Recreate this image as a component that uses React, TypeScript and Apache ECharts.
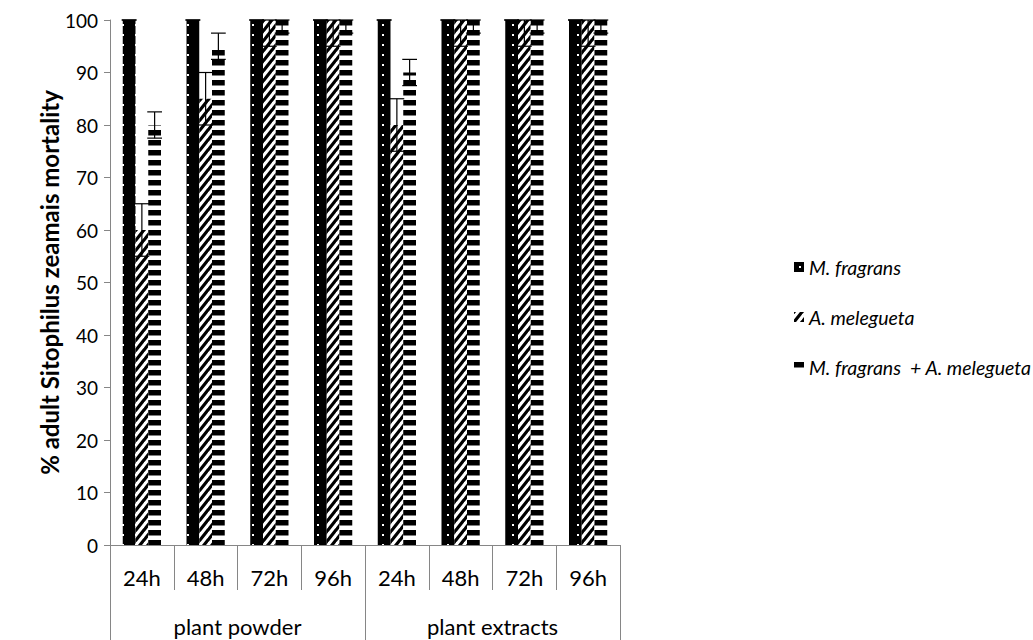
import React, { useEffect, useRef } from "react";
import * as echarts from "echarts";

const categories = ["24h", "48h", "72h", "96h", "24h", "48h", "72h", "96h"];
const groups = ["plant powder", "plant extracts"];
const seriesNames = ["M. fragrans", "A. melegueta", "M. fragrans  + A. melegueta"];
const mfValues = [100, 100, 100, 100, 100, 100, 100, 100];
const amValues = [60, 85, 100, 100, 80, 100, 100, 100];
const comboValues = [80, 95, 100, 100, 90, 100, 100, 100];
const mfErr = [0, 0, 0, 0, 0, 0, 0, 0];
const amErr = [5, 5, 5, 5, 5, 5, 5, 5];
const comboErr = [2.5, 2.5, 2.5, 2.5, 2.5, 2.5, 2.5, 2.5];
const yTicks = { min: 0, max: 100, interval: 10 };

const FONT = "Lato, 'Open Sans', sans-serif";
const AXIS = "#868686";

function svgUrl(svg: string) {
  return "data:image/svg+xml;charset=utf-8," + encodeURIComponent(svg);
}

const dotPattern = {
  image: svgUrl(
    "<svg xmlns='http://www.w3.org/2000/svg' width='13' height='10'><rect width='13' height='10' fill='black'/><rect x='5' y='4' width='2' height='2' fill='white'/></svg>"
  ),
  repeat: "repeat",
  imageWidth: 13,
  imageHeight: 10,
};
const hatchPattern = {
  image: svgUrl(
    "<svg xmlns='http://www.w3.org/2000/svg' width='8' height='10'><rect width='8' height='10' fill='white'/><path d='M-0.8,1 L0.8,-1 M-0.8,11 L8.8,-1 M7.2,11 L8.8,9' stroke='black' stroke-width='3.2'/></svg>"
  ),
  repeat: "repeat",
  imageWidth: 8,
  imageHeight: 10,
};
const stripePattern = {
  image: svgUrl(
    "<svg xmlns='http://www.w3.org/2000/svg' width='10' height='10'><rect width='10' height='10' fill='white'/><rect y='0' width='10' height='5.5' fill='black'/></svg>"
  ),
  repeat: "repeat",
  imageWidth: 10,
  imageHeight: 10,
};

export default function App() {
  const ref = useRef<HTMLDivElement>(null);
  useEffect(() => {
    document.body.style.margin = "0";
    if (!ref.current) return;
    const chart = echarts.init(ref.current, null, { renderer: "svg" });

    const values = [mfValues, amValues, comboValues];
    const errs = [mfErr, amErr, comboErr];
    const errData: number[][] = [];
    values.forEach((vals, si) => {
      vals.forEach((v, i) => {
        const e = errs[si][i];
        errData.push([i, Math.max(0, v - e), Math.min(yTicks.max, v + e), si]);
      });
    });

    const patterns = [dotPattern, hatchPattern, stripePattern];

    chart.setOption({
      animation: false,
      grid: { left: 110, right: 413, top: 20, bottom: 95 },
      legend: {
        data: seriesNames,
        orient: "vertical",
        left: 794,
        top: 257,
        padding: 0,
        itemWidth: 10,
        itemHeight: 10,
        itemGap: 30,
        icon: "rect",
        textStyle: { fontFamily: FONT, fontSize: 19.5, fontStyle: "italic", color: "#000" },
      },
      xAxis: [
        {
          type: "category",
          data: categories,
          position: "bottom",
          axisLine: { show: true, lineStyle: { color: AXIS } },
          axisTick: { show: true, interval: 0, length: 45, lineStyle: { color: AXIS } },
          axisLabel: { interval: 0, margin: 21, fontSize: 22, fontFamily: FONT, color: "#000" },
        },
        {
          type: "category",
          data: groups,
          position: "bottom",
          offset: 0,
          axisLine: { show: false },
          axisTick: { show: true, interval: 0, length: 95, lineStyle: { color: AXIS } },
          axisLabel: { interval: 0, margin: 70, fontSize: 22, fontFamily: FONT, color: "#000" },
        },
      ],
      yAxis: {
        type: "value",
        min: yTicks.min,
        max: yTicks.max,
        interval: yTicks.interval,
        name: "% adult Sitophilus zeamais mortality",
        nameLocation: "middle",
        nameGap: 36,
        nameTextStyle: { fontFamily: FONT, fontSize: 24, fontWeight: "bold", color: "#000" },
        axisLine: { show: true, lineStyle: { color: AXIS } },
        axisTick: { show: true, length: 6, lineStyle: { color: AXIS } },
        splitLine: { show: false },
        axisLabel: { fontSize: 19, fontFamily: FONT, color: "#000", margin: 12 },
      },
      series: [
        ...seriesNames.map((name, si) => ({
          name,
          type: "bar",
          data: values[si],
          barGap: "0%",
          barCategoryGap: "40%",
          itemStyle: { color: patterns[si] },
        })),
        {
          name: "err",
          type: "custom",
          z: 10,
          data: errData,
          encode: { x: 0, y: [1, 2] },
          renderItem: (params: any, api: any) => {
            const cat = api.value(0);
            const low = api.value(1);
            const high = api.value(2);
            const si = api.value(3);
            const band = api.size([1, 0])[0];
            const bw = (band * 0.6) / 3;
            const cx = api.coord([cat, 0])[0] + (si - 1) * bw;
            const yl = api.coord([cat, low])[1];
            const yh = api.coord([cat, high])[1];
            const hw = bw / 2 + 1;
            const st = { stroke: "#000", lineWidth: 1.2 };
            return {
              type: "group",
              children: [
                { type: "line", shape: { x1: cx, y1: yl, x2: cx, y2: yh }, style: st },
                { type: "line", shape: { x1: cx - hw, y1: yh, x2: cx + hw, y2: yh }, style: st },
                { type: "line", shape: { x1: cx - hw, y1: yl, x2: cx + hw, y2: yl }, style: st },
              ],
            };
          },
        },
      ],
    });
    return () => chart.dispose();
  }, []);
  return <div ref={ref} style={{ width: 1033, height: 640 }} />;
}
